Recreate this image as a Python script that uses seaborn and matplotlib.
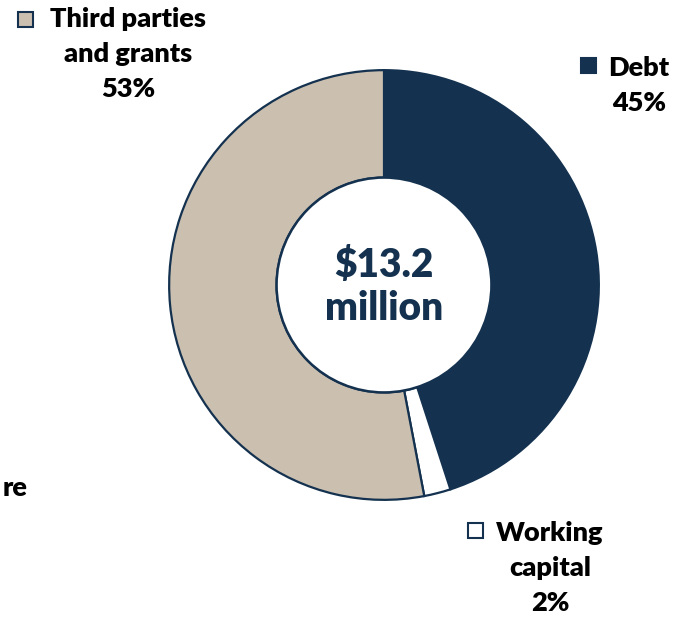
import matplotlib
matplotlib.use("Agg")
import matplotlib.pyplot as plt
from matplotlib.patches import Rectangle
import seaborn as sns

# Funding sources (share of total, %)
categories = ["Debt", "Working\ncapital", "Third parties\nand grants"]
shares = [45, 2, 53]
share_labels = ["45%", "2%", "53%"]
total_label = "$13.2\nmillion"

NAVY = "#14324F"
BEIGE = "#CBBFB0"
WHITE = "#FFFFFF"

sns.set_theme(style="white")
plt.rcParams["font.family"] = ["Lato", "DejaVu Sans"]
palette = sns.color_palette([NAVY, WHITE, BEIGE])

W, H = 690, 619
fig = plt.figure(figsize=(W / 100, H / 100), dpi=100)
fig.patch.set_facecolor("white")

# Donut centre and outer radius in pixels
cx, cy, R = 384, 285, 217
ax = fig.add_axes([(cx - R) / W, (H - cy - R) / H, 2 * R / W, 2 * R / H])
ax.pie(
    shares,
    colors=palette,
    startangle=90,
    counterclock=False,
    radius=1.0,
    wedgeprops=dict(width=0.5, edgecolor=NAVY, linewidth=1.6),
)
# outline of the centre hole
ax.add_patch(plt.Circle((0, 0), 0.5, facecolor="white", edgecolor=NAVY, linewidth=1.8, zorder=5))
ax.set_xlim(-1.01, 1.01)
ax.set_ylim(-1.01, 1.01)
ax.set_aspect("equal")
ax.axis("off")

ax.text(0, -0.01, total_label, ha="center", va="center", fontsize=28, fontweight="heavy",
        color=NAVY, linespacing=1.2, zorder=6)


def px(x, y):
    return x / W, 1 - y / H


def legend_label(cat, pct, xc, ytop, box_x, box_y, face):
    lines = cat.split("\n") + [pct]
    for i, line in enumerate(lines):
        fig.text(*px(xc, ytop + i * 35), line, ha="center", va="center",
                 fontsize=19.5, fontweight="heavy", color="black")
    fig.patches.append(Rectangle(px(box_x, box_y + 15), 15 / W, 15 / H,
                                 transform=fig.transFigure, facecolor=face,
                                 edgecolor=NAVY, linewidth=1.5))


legend_label(categories[2], share_labels[2], 128, 19, 18, 12, BEIGE)
legend_label(categories[0], share_labels[0], 639, 68, 581, 58, NAVY)
legend_label(categories[1], share_labels[1], 550, 533, 468, 523, WHITE)

fig.text(*px(3, 488), "re", ha="left", va="center", fontsize=19.5,
         fontweight="heavy", color="black")

fig.savefig("out.png", dpi=100, facecolor="white")
